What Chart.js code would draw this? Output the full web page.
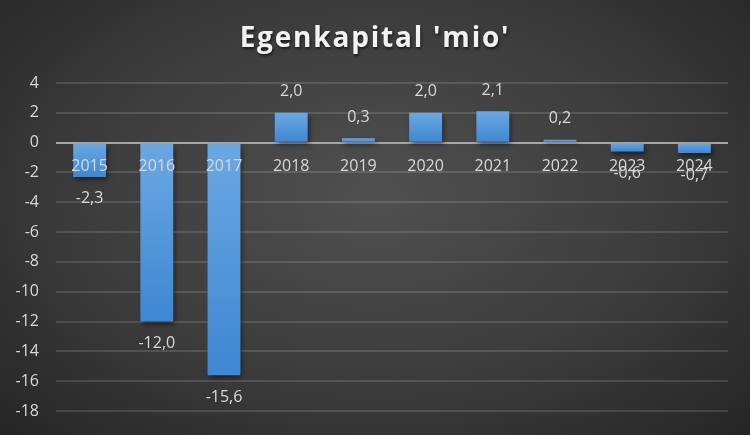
<!DOCTYPE html>
<html>
<head>
<meta charset="utf-8">
<script src="https://cdn.jsdelivr.net/npm/chart.js@4"></script>
<style>
  html, body { margin: 0; padding: 0; }
  body {
    width: 750px; height: 435px; overflow: hidden;
    background: radial-gradient(ellipse at 50% 45%, #505050 0%, #3c3c3c 55%, #252525 100%);
  }
  #wrap { position: relative; width: 750px; height: 435px; }
</style>
</head>
<body>
<div id="wrap"><canvas id="barChart"></canvas></div>
<script>
// data
var years = ["2015", "2016", "2017", "2018", "2019", "2020", "2021", "2022", "2023", "2024"];
var equity = [-2.3, -12.0, -15.6, 2.0, 0.3, 2.0, 2.1, 0.2, -0.6, -0.7];
var titleText = "Egenkapital 'mio'";

var fmt = function (v) { return v.toFixed(1).replace('.', ','); };

// tegner titel med bogstavafstand og skygge
var titlePlugin = {
  id: 'titleDraw',
  afterDraw: function (chart) {
    var c = chart.ctx;
    c.save();
    c.font = "bold 28px 'Open Sans'";
    c.letterSpacing = '1.8px';
    c.textAlign = 'center';
    c.textBaseline = 'middle';
    c.shadowColor = 'rgba(0,0,0,0.6)';
    c.shadowOffsetX = 1; c.shadowOffsetY = 2; c.shadowBlur = 3;
    c.fillStyle = '#f2f2f2';
    c.fillText(titleText, chart.width / 2, 39);
    c.restore();
  }
};

// dataetiketter
var labelPlugin = {
  id: 'valueLabels',
  afterDatasetsDraw: function (chart) {
    var c = chart.ctx;
    var meta = chart.getDatasetMeta(0);
    c.save();
    c.font = "16px 'Open Sans'";
    c.fillStyle = '#d9d9d9';
    c.textAlign = 'center';
    c.textBaseline = 'middle';
    meta.data.forEach(function (bar, i) {
      var v = equity[i];
      var y = v >= 0 ? bar.y - 21 : bar.y + 22;
      c.fillText(fmt(v), bar.x, y);
    });
    c.restore();
  }
};

// skygge under søjlerne
var shadowPlugin = {
  id: 'barShadow',
  beforeDatasetsDraw: function (chart) {
    var c = chart.ctx;
    c.save();
    c.shadowColor = 'rgba(0,0,0,0.5)';
    c.shadowBlur = 5;
    c.shadowOffsetX = 2;
    c.shadowOffsetY = 3;
  },
  afterDatasetsDraw: function (chart) {
    chart.ctx.restore();
  }
};

var ctxB = document.getElementById("barChart").getContext('2d');
var myBarChart = new Chart(ctxB, {
  type: 'bar',
  data: {
    labels: years,
    datasets: [{
      label: "Egenkapital",
      data: equity,
      backgroundColor: function (context) {
        var chart = context.chart;
        var area = chart.chartArea;
        if (!area) return '#5b9bd5';
        var ys = chart.scales.y;
        var v = equity[context.dataIndex];
        var top = ys.getPixelForValue(Math.max(v, 0));
        var bot = ys.getPixelForValue(Math.min(v, 0));
        if (bot - top < 1) bot = top + 1;
        var g = chart.ctx.createLinearGradient(0, top, 0, bot);
        g.addColorStop(0, '#6aa8e3');
        g.addColorStop(1, '#3f87d2');
        return g;
      },
      borderWidth: 0,
      categoryPercentage: 1.0,
      barPercentage: 0.49
    }]
  },
  options: {
    responsive: true,
    maintainAspectRatio: false,
    animation: false,
    layout: { padding: { top: 83, right: 22, bottom: 24, left: 0 } },
    plugins: {
      legend: { display: false },
      tooltip: { enabled: false }
    },
    scales: {
      x: {
        position: { y: 0 },
        grid: { display: false, drawTicks: false },
        border: { display: false },
        ticks: { z: 1, color: '#d9d9d9', font: { family: 'Open Sans', size: 16 }, padding: 14 }
      },
      y: {
        min: -18,
        max: 4,
        afterFit: function (scale) {
          scale.width = 56;
          scale.paddingTop = 0;
          scale.paddingBottom = 0;
        },
        ticks: {
          stepSize: 2,
          color: '#d9d9d9',
          font: { family: 'Open Sans', size: 16 },
          padding: 17
        },
        grid: {
          color: function (context) {
            return context.tick.value === 0 ? '#a6a6a6' : 'rgba(255,255,255,0.13)';
          },
          lineWidth: 2,
          drawTicks: false
        },
        border: { display: false }
      }
    }
  },
  plugins: [shadowPlugin, labelPlugin, titlePlugin]
});
</script>
</body>
</html>
